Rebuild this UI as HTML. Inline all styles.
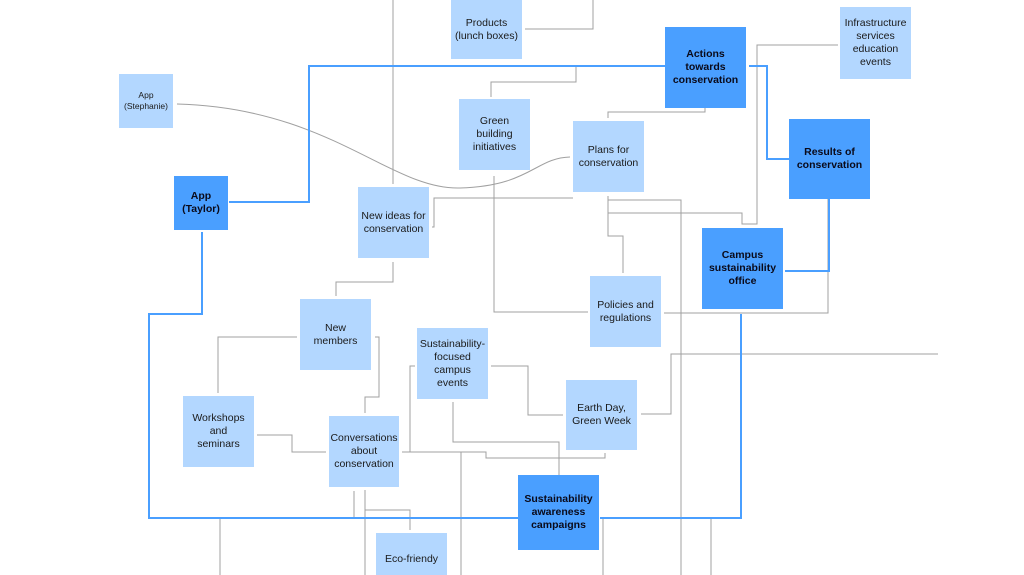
<!DOCTYPE html>
<html><head><style>
html,body{margin:0;padding:0;background:#fff;width:1024px;height:575px;overflow:hidden;position:relative;font-family:"Liberation Sans","DejaVu Sans",sans-serif}
.b{position:absolute;background:#b3d7ff;display:flex;align-items:center;justify-content:center;text-align:center;font-size:10.5px;line-height:13px;color:#1a1a1a}
.d{background:#4a9fff;font-weight:bold;color:#0a0a1a;font-size:10.5px}
svg{position:absolute;left:0;top:0}
</style></head><body>
<svg width="1024" height="575" fill="none">
<g stroke="#a0a0a0" stroke-width="1">
<path d="M393 0V184"/>
<path d="M525 29H593V0"/>
<path d="M705 108V112H608V118"/>
<path d="M491 97V82H576V66"/>
<path d="M177 104C330 108 390 190 460 188S535 158 570 157"/>
<path d="M494 176V312H588"/>
<path d="M432 227H434V198H573"/>
<path d="M393 262V282H336V296"/>
<path d="M608 196V200H681V575"/>
<path d="M608 213H742V224H757V45H838"/>
<path d="M608 196V236H623V273"/>
<path d="M664 313H828V199"/>
<path d="M938 354H671V414H641"/>
<path d="M605 453V458H486V452H402"/>
<path d="M461 452V575"/>
<path d="M410 452V366H415"/>
<path d="M491 366H528V415H563"/>
<path d="M453 402V442H559V475"/>
<path d="M297 337H218V393"/>
<path d="M375 337H379V397H365V413"/>
<path d="M257 435H292V452H326"/>
<path d="M365 490V575"/>
<path d="M354 491V518"/>
<path d="M365 510H410V530"/>
<path d="M220 518V575"/>
<path d="M603 518V575"/>
<path d="M711 518V575"/>
</g>
<g stroke="#4a9fff" stroke-width="2">
<path d="M229 202H309V66H665"/>
<path d="M749 66H767V159H789"/>
<path d="M829 199V271H785"/>
<path d="M741 314V518H600"/>
<path d="M518 518H149V314H202V232"/>
</g>
</svg>
<div class="b" style="left:451px;top:0;width:71px;height:59px">Products<br>(lunch boxes)</div>
<div class="b d" style="left:665px;top:27px;width:81px;height:81px">Actions<br>towards<br>conservation</div>
<div class="b" style="left:840px;top:7px;width:71px;height:72px">Infrastructure<br>services<br>education<br>events</div>
<div class="b" style="left:119px;top:74px;width:54px;height:54px;font-size:8.5px;line-height:11px">App<br>(Stephanie)</div>
<div class="b" style="left:459px;top:99px;width:71px;height:71px">Green<br>building<br>initiatives</div>
<div class="b" style="left:573px;top:121px;width:71px;height:71px">Plans for<br>conservation</div>
<div class="b d" style="left:789px;top:119px;width:81px;height:80px">Results of<br>conservation</div>
<div class="b d" style="left:174px;top:176px;width:54px;height:54px">App<br>(Taylor)</div>
<div class="b" style="left:358px;top:187px;width:71px;height:71px">New ideas for<br>conservation</div>
<div class="b d" style="left:702px;top:228px;width:81px;height:81px">Campus<br>sustainability<br>office</div>
<div class="b" style="left:590px;top:276px;width:71px;height:71px">Policies and<br>regulations</div>
<div class="b" style="left:300px;top:299px;width:71px;height:71px">New<br>members</div>
<div class="b" style="left:417px;top:328px;width:71px;height:71px">Sustainability-<br>focused<br>campus<br>events</div>
<div class="b" style="left:566px;top:380px;width:71px;height:70px">Earth Day,<br>Green Week</div>
<div class="b" style="left:183px;top:396px;width:71px;height:71px">Workshops<br>and<br>seminars</div>
<div class="b" style="left:329px;top:416px;width:70px;height:71px">Conversations<br>about<br>conservation</div>
<div class="b d" style="left:518px;top:475px;width:81px;height:75px">Sustainability<br>awareness<br>campaigns</div>
<div class="b" style="left:376px;top:533px;width:71px;height:50px;align-items:flex-start;padding-top:0"><span style="margin-top:20px">Eco-friendy</span></div>
</body></html>
